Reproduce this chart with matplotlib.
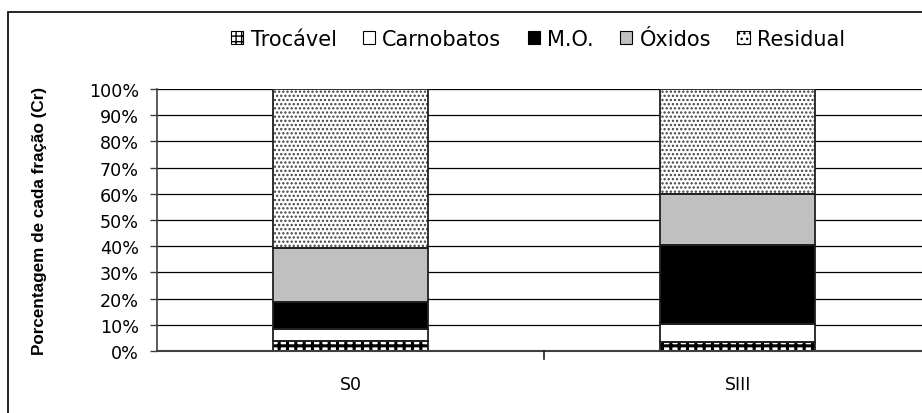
import matplotlib
matplotlib.use("Agg")
import matplotlib.pyplot as plt
from matplotlib.patches import Rectangle, Patch
import numpy as np

plt.rcParams['font.family'] = ['DejaVu Sans']

categories = ["S0", "SIII"]
fractions = ["Trocável", "Carnobatos", "M.O.", "Óxidos", "Residual"]
trocavel = [3.8, 3.4]
carbonatos = [4.6, 6.9]
mo = [10.3, 30.2]
oxidos = [20.8, 19.4]
residual = [60.5, 40.1]
yticks = [0, 10, 20, 30, 40, 50, 60, 70, 80, 90, 100]

series = [trocavel, carbonatos, mo, oxidos, residual]
faces = ["white", "white", "black", "#c0c0c0", "white"]
hatches = ["++", None, None, None, "...."]
legend_hatches = ["+++", None, None, None, "..."]
hatch_cols = ["black", None, None, None, "#404040"]
hatch_lw = [2.2, 1.0, 1.0, 1.0, 1.1]

fig = plt.figure(figsize=(9.22, 4.14), dpi=100)
ax = fig.add_axes([157/922, 1-352/414, (922-157)/922 + 0.01, (352-90)/414])

x = np.arange(len(categories))
width = 0.40
bottom = np.zeros(len(categories))

ax.set_ylim(0, 100)
ax.set_xlim(-0.5, 1.5)
ax.set_yticks(yticks)
ax.set_yticklabels([f"{v}%" for v in yticks], fontsize=12.6)
for v in yticks[1:]:
    ax.axhline(v, color="black", lw=0.9, zorder=1)

handles = []
for vals, fc, h, lh, hc, hl, name in zip(series, faces, hatches, legend_hatches, hatch_cols, hatch_lw, fractions):
    vals = np.array(vals)
    with plt.rc_context({'hatch.linewidth': hl}):
        if h:
            ax.bar(x, vals, width, bottom=bottom, color=fc, edgecolor=hc, hatch=h, lw=0, zorder=2)
        else:
            ax.bar(x, vals, width, bottom=bottom, color=fc, lw=0, zorder=2)
        ax.bar(x, vals, width, bottom=bottom, fill=False, edgecolor="#202020", lw=1.3, zorder=3)
    with plt.rc_context({'hatch.linewidth': 0.9}):
        handles.append(Patch(facecolor=fc, edgecolor="black", hatch=lh, lw=0.8, label=name))
    bottom += vals

for s in ["top", "right"]:
    ax.spines[s].set_visible(False)
ax.spines["left"].set_color("#404040")
ax.spines["bottom"].set_color("#404040")
ax.spines["left"].set_linewidth(1.2)
ax.spines["bottom"].set_linewidth(1.5)
ax.spines["bottom"].set_zorder(4)
ax.tick_params(axis="y", direction="out", length=5, width=1, color="#404040", pad=8)
ax.set_xticks(x)
ax.set_xticklabels(categories, fontsize=12.5)
ax.tick_params(axis="x", length=0, pad=17)
for xb in [0.5]:
    ax.plot([xb, xb], [0, -3], color="#202020", lw=1.2, clip_on=False, zorder=5)

ax.set_ylabel("Porcentagem de cada fração (Cr)", fontsize=12.3, fontweight="bold",
              family=["Liberation Sans", "DejaVu Sans"], labelpad=30)

leg = fig.legend(handles=handles, loc="center", bbox_to_anchor=(538/922, 1-40/414), ncol=5,
                 frameon=False, fontsize=15, handlelength=0.6, handleheight=0.6,
                 handletextpad=0.35, columnspacing=1.25, borderaxespad=0)

border = Rectangle((8/922, -0.05), 1.1, 1.05 - 13/414 + 0.0, transform=fig.transFigure,
                   fill=False, edgecolor="black", lw=1.2)
fig.patches.append(border)

fig.savefig("out.png", dpi=100)
